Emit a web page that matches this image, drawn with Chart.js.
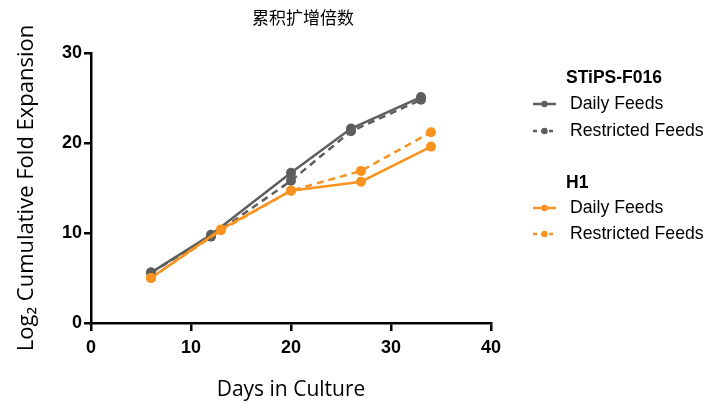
<!DOCTYPE html>
<html>
<head>
<meta charset="utf-8">
<script src="https://cdn.jsdelivr.net/npm/chart.js@4"></script>
<style>
  html, body { margin: 0; padding: 0; background: #fff; }
  #wrap { width: 721px; height: 405px; }
</style>
</head>
<body>
<div id="wrap"><canvas id="foldChart" width="721" height="405"></canvas></div>
<script>
// data
const stipsDays = [6, 12, 20, 26, 33];
const stipsDaily = [5.6, 9.8, 16.7, 21.6, 25.1];
const stipsRestricted = [5.6, 9.6, 15.8, 21.3, 24.8];
const h1Days = [6, 13, 20, 27, 34];
const h1Daily = [5.0, 10.4, 14.7, 15.7, 19.6];
const h1Restricted = [5.0, 10.3, 14.7, 16.9, 21.2];
const xTicks = [0, 10, 20, 30, 40];
const yTicks = [0, 10, 20, 30];

const grey = '#5e5e5e';
const orange = '#f7931e';

function pts(xs, ys) {
  return xs.map((x, i) => ({ x: x, y: ys[i] }));
}

function series(label, xs, ys, color, dashed, order) {
  return {
    label: label,
    data: pts(xs, ys),
    borderColor: color,
    backgroundColor: color,
    borderWidth: 2.5,
    borderDash: dashed ? [7, 5] : [],
    pointRadius: 5,
    pointHoverRadius: 5,
    pointBorderWidth: 0,
    tension: 0,
    order: order
  };
}

// title + grouped legend drawn on the canvas
const extras = {
  id: 'extras',
  afterDraw(chart) {
    const ctx = chart.ctx;
    const ds = chart.data.datasets;
    ctx.save();
    ctx.fillStyle = '#000';
    ctx.font = '17px "Noto Sans CJK SC"';
    ctx.textAlign = 'center';
    ctx.textBaseline = 'middle';
    ctx.fillText('累积扩增倍数', 303, 18);

    const groups = [
      { name: 'STiPS-F016', y: 78, rows: [[0, 104], [1, 131]] },
      { name: 'H1', y: 183, rows: [[2, 208], [3, 234]] }
    ];
    ctx.textAlign = 'left';
    groups.forEach(g => {
      ctx.font = 'bold 17.5px "Liberation Sans", Arial, sans-serif';
      ctx.fillStyle = '#000';
      ctx.fillText(g.name, 566, g.y);
      g.rows.forEach(r => {
        const d = ds[r[0]];
        const y = r[1];
        ctx.strokeStyle = d.borderColor;
        ctx.lineWidth = 2.5;
        ctx.setLineDash(d.borderDash.length ? [4, 4] : []);
        ctx.beginPath();
        ctx.moveTo(533, y);
        ctx.lineTo(556, y);
        ctx.stroke();
        ctx.setLineDash([]);
        ctx.fillStyle = d.backgroundColor;
        ctx.beginPath();
        ctx.arc(544.5, y, 3.2, 0, Math.PI * 2);
        ctx.fill();
        ctx.fillStyle = '#000';
        ctx.font = '17.7px "Liberation Sans", Arial, sans-serif';
        ctx.fillText(d.label, 570, y);
      });
    });
    ctx.restore();
  }
};

const tickFont = { family: '"Liberation Sans", Arial, sans-serif', size: 18, weight: 'bold' };

new Chart(document.getElementById('foldChart').getContext('2d'), {
  type: 'line',
  data: {
    datasets: [
      series('Daily Feeds', stipsDays, stipsDaily, grey, false, 3),
      series('Restricted Feeds', stipsDays, stipsRestricted, grey, true, 4),
      series('Daily Feeds', h1Days, h1Daily, orange, false, 1),
      series('Restricted Feeds', h1Days, h1Restricted, orange, true, 2)
    ]
  },
  options: {
    responsive: false,
    animation: false,
    layout: { padding: { top: 53, right: 230, left: 0, bottom: 0 } },
    plugins: {
      legend: { display: false },
      title: { display: false },
      tooltip: { enabled: false }
    },
    scales: {
      x: {
        type: 'linear',
        min: 0,
        max: 40,
        afterFit(scale) { scale.height = 82; },
        afterBuildTicks(scale) { scale.ticks = xTicks.map(v => ({ value: v })); },
        grid: { drawOnChartArea: false, drawTicks: true, tickLength: 8, color: '#000', lineWidth: 2.5 },
        border: { color: '#000', width: 2.5 },
        ticks: { color: '#000', font: tickFont, padding: 6, maxRotation: 0 },
        title: { display: true, text: 'Days in Culture', color: '#000', font: { family: '"Open Sans", "Noto Sans", sans-serif', size: 21 }, padding: { top: 0, bottom: 2 } }
      },
      y: {
        min: 0,
        max: 30,
        afterFit(scale) { scale.width = 91; },
        afterBuildTicks(scale) { scale.ticks = yTicks.map(v => ({ value: v })); },
        grid: { drawOnChartArea: false, drawTicks: true, tickLength: 7, color: '#000', lineWidth: 2.5 },
        border: { color: '#000', width: 2.5 },
        ticks: { color: '#000', font: tickFont, padding: 2 },
        title: { display: true, text: 'Log₂ Cumulative Fold Expansion', color: '#000', font: { family: '"Open Sans", "Noto Sans", sans-serif', size: 22 }, padding: { top: 14, bottom: 0 } }
      }
    }
  },
  plugins: [extras]
});
</script>
</body>
</html>
